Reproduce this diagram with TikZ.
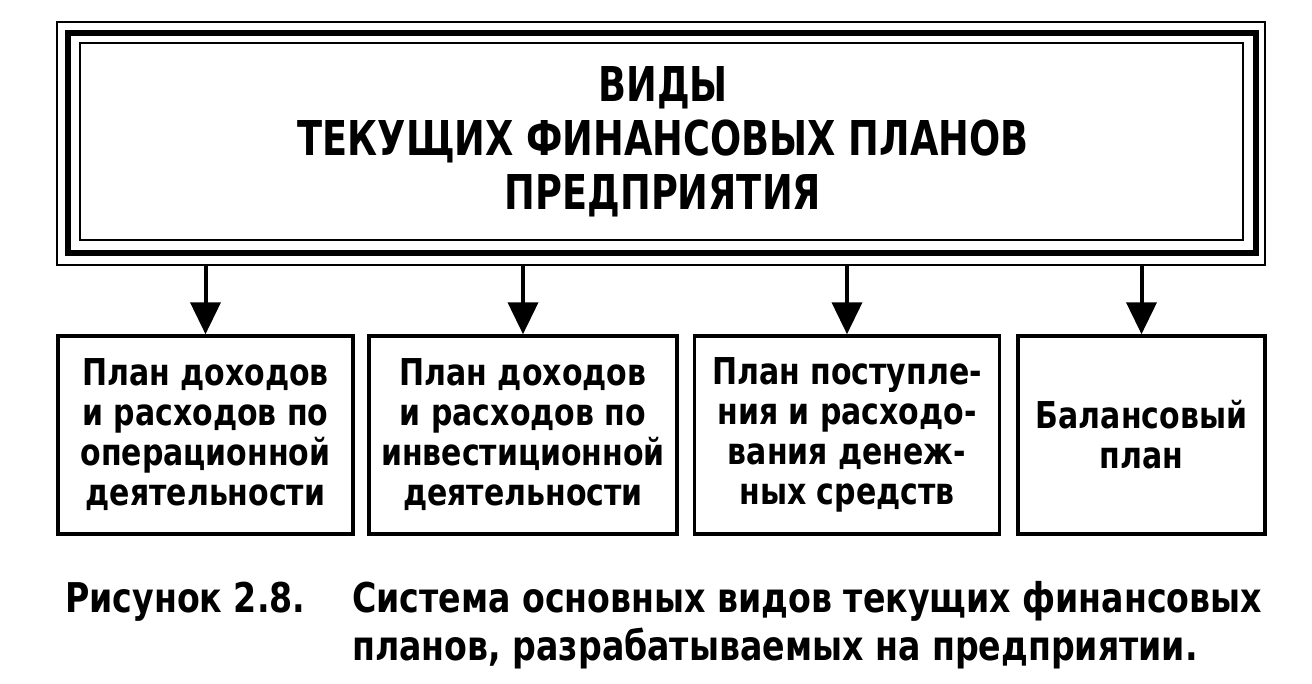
\documentclass[tikz,border=0pt]{standalone}
\usepackage{fontspec}
\setmainfont{DejaVu Sans Condensed Bold}
\newfontfamily\boxfont{DejaVu Sans Condensed Bold}[FakeStretch=0.9]
\newfontfamily\titlefont{DejaVu Sans Condensed Bold}[FakeStretch=0.85]
\newfontfamily\capfont{DejaVu Sans Condensed Bold}[FakeStretch=0.9]
\usetikzlibrary{arrows.meta}
\tikzset{
  thinframe/.style={draw=black, line width=2pt},
  thickframe/.style={draw=black, line width=6.5pt},
  planbox/.style={draw=black, line width=3.5pt, fill=white, align=center,
    font=\boxfont\fontsize{37}{40}\selectfont, inner sep=0pt},
  conn/.style={line width=4pt, -{Triangle[length=32pt,width=30pt]}},
  titletext/.style={align=center, font=\titlefont\fontsize{48}{54}\selectfont, inner sep=0pt},
  captext/.style={anchor=base west, font=\capfont\fontsize{41}{48}\selectfont, inner sep=0pt}
}
\begin{document}
\begin{tikzpicture}[x=1pt,y=-1pt]
\useasboundingbox[fill=white] (0,0) rectangle (1312,683);
% title frame
\node[thinframe, minimum width=1208pt, minimum height=243pt, inner sep=0pt] (top) at (661,143.5) {};
\draw[thickframe] (68,33) rectangle (1256,253);
\draw[thinframe] (80,43) rectangle (1243,240);
\node[titletext] (title) at (663,142) {ВИДЫ\\ТЕКУЩИХ ФИНАНСОВЫХ ПЛАНОВ\\ПРЕДПРИЯТИЯ};
% boxes
\node[planbox, minimum width=295pt, minimum height=198pt] (b1) at (205.5,435) {План доходов\\и расходов по\\операционной\\деятельности};
\node[planbox, minimum width=308pt, minimum height=198pt] (b2) at (523,435) {План доходов\\и расходов по\\инвестиционной\\деятельности};
\node[planbox, minimum width=305pt, minimum height=198pt] (b3) at (847,435) {План поступле-\\ния и расходо-\\вания денеж-\\ных средств};
\node[planbox, minimum width=247pt, minimum height=198pt] (b4) at (1141.5,435) {Балансовый\\план};
% connectors
\foreach \b in {b1,b2,b3,b4}
  \draw[conn] (top.south -| \b.north) -- (\b.north);
% caption
\node[captext] (capnum) at (65,612) {Рисунок 2.8.};
\node[captext] (cap1) at (352,612) {Система основных видов текущих финансовых};
\node[captext] (cap2) at (352,660) {планов, разрабатываемых на предприятии.};
\end{tikzpicture}
\end{document}
